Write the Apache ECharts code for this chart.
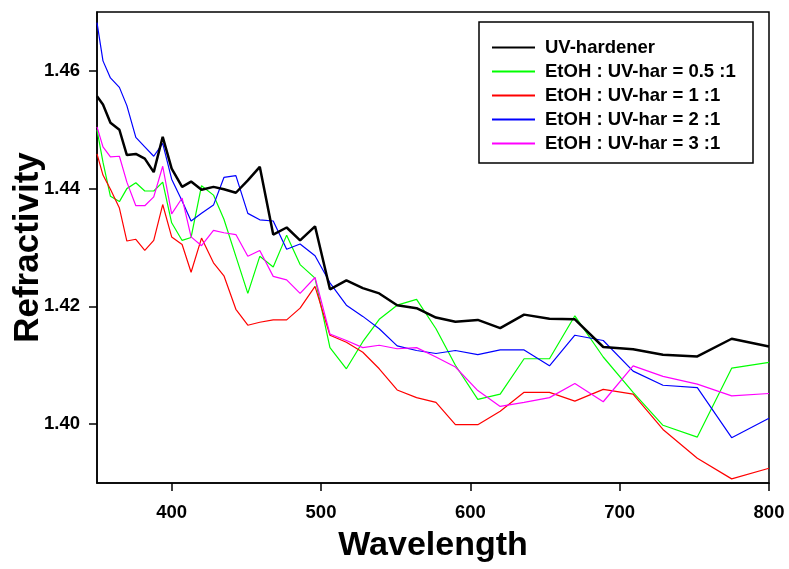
<!DOCTYPE html>
<html>
<head>
<meta charset="utf-8">
<script src="https://cdn.jsdelivr.net/npm/echarts@6/dist/echarts.min.js"></script>
<style>
  html, body { margin: 0; padding: 0; background: #fff; }
  #chart { width: 789px; height: 569px; }
</style>
</head>
<body>
<div id="chart"></div>
<script>
// wavelength of each measured point (nm)
const wavelength = [350, 354, 359, 365, 370, 376, 382, 388, 394, 400, 407, 413, 420, 428, 435, 443, 451, 459, 468, 477,
  486, 496, 506, 517, 528, 539, 551, 564, 577, 590, 605, 620, 636, 653, 670, 689, 709, 729, 752, 775, 800];

const uvHardener = [1.4557, 1.4543, 1.4512, 1.4500, 1.4457, 1.4459, 1.4451, 1.4428, 1.4488, 1.4434, 1.4403, 1.4412, 1.4398,
  1.4403, 1.4399, 1.4393, 1.4414, 1.4437, 1.4322, 1.4334, 1.4312, 1.4336, 1.4229, 1.4244, 1.4231, 1.4222, 1.4202, 1.4197,
  1.4181, 1.4174, 1.4177, 1.4163, 1.4186, 1.4179, 1.4178, 1.4131, 1.4127, 1.4118, 1.4115, 1.4145, 1.4132];

const ratio05 = [1.4500, 1.4445, 1.4387, 1.4378, 1.4400, 1.4410, 1.4396, 1.4396, 1.4411, 1.4342, 1.4312, 1.4317, 1.4405,
  1.4389, 1.4348, 1.4285, 1.4222, 1.4285, 1.4267, 1.4321, 1.4271, 1.4248, 1.4130, 1.4094, 1.4140, 1.4178, 1.4202, 1.4212,
  1.4162, 1.4100, 1.4042, 1.4051, 1.4111, 1.4111, 1.4184, 1.4114, 1.4054, 1.3998, 1.3978, 1.4095, 1.4105];

const ratio1 = [1.4459, 1.4423, 1.4399, 1.4367, 1.4311, 1.4314, 1.4295, 1.4312, 1.4373, 1.4318, 1.4305, 1.4258, 1.4316,
  1.4274, 1.4252, 1.4195, 1.4168, 1.4173, 1.4177, 1.4177, 1.4197, 1.4234, 1.4151, 1.4139, 1.4122, 1.4094, 1.4058, 1.4045,
  1.4037, 1.3999, 1.3999, 1.4022, 1.4054, 1.4054, 1.4039, 1.4059, 1.4051, 1.3991, 1.3942, 1.3907, 1.3925];

const ratio2 = [1.4682, 1.4617, 1.4588, 1.4572, 1.4541, 1.4487, 1.4471, 1.4455, 1.4477, 1.4416, 1.4379, 1.4345, 1.4358,
  1.4372, 1.4419, 1.4422, 1.4358, 1.4347, 1.4345, 1.4297, 1.4306, 1.4286, 1.4240, 1.4202, 1.4183, 1.4162, 1.4133, 1.4125,
  1.4120, 1.4125, 1.4118, 1.4126, 1.4126, 1.4099, 1.4151, 1.4142, 1.4090, 1.4066, 1.4062, 1.3977, 1.4010];

const ratio3 = [1.4505, 1.4471, 1.4454, 1.4455, 1.4411, 1.4371, 1.4371, 1.4386, 1.4438, 1.4357, 1.4384, 1.4318, 1.4303,
  1.4329, 1.4325, 1.4322, 1.4285, 1.4295, 1.4251, 1.4245, 1.4222, 1.4249, 1.4153, 1.4142, 1.4130, 1.4134, 1.4128, 1.4130,
  1.4114, 1.4097, 1.4057, 1.4030, 1.4037, 1.4045, 1.4069, 1.4038, 1.4099, 1.4081, 1.4068, 1.4048, 1.4052];

const seriesNames = ['UV-hardener', 'EtOH : UV-har = 0.5 :1', 'EtOH : UV-har = 1 :1', 'EtOH : UV-har = 2 :1', 'EtOH : UV-har = 3 :1'];
const seriesValues = [uvHardener, ratio05, ratio1, ratio2, ratio3];
const seriesColors = ['#000000', '#00ff00', '#ff0000', '#0000ff', '#ff00ff'];

const xTicks = [400, 500, 600, 700, 800];
const yTicks = [1.40, 1.42, 1.44, 1.46];

const font = "'Liberation Sans', Arial, sans-serif";

const chart = echarts.init(document.getElementById('chart'), null, { renderer: 'canvas' });

const series = seriesValues.map((vals, i) => ({
  name: seriesNames[i],
  type: 'line',
  symbol: 'none',
  z: i === 0 ? 3 : 2,
  lineStyle: { color: seriesColors[i], width: i === 0 ? 2.5 : 1.2 },
  itemStyle: { color: seriesColors[i] },
  data: wavelength.map((w, j) => [w, vals[j]])
}));

const option = {
  animation: false,
  backgroundColor: '#fff',
  grid: {
    left: 97, right: 20, top: 12, bottom: 86,
    outerBoundsMode: 'none',
    show: true, borderColor: '#000', borderWidth: 1.5, backgroundColor: 'transparent'
  },
  graphic: [{
    type: 'rect',
    shape: { x: 479, y: 22, width: 274, height: 141 },
    style: { fill: '#fff', stroke: '#000', lineWidth: 1.5 },
    z: 50
  }],
  legend: {
    orient: 'vertical',
    left: 492, top: 38,
    icon: 'rect',
    itemWidth: 43, itemHeight: 2, itemGap: 5,
    padding: 0,
    z: 60,
    data: seriesNames,
    textStyle: { fontFamily: font, fontWeight: 'bold', fontSize: 18.5, lineHeight: 19, color: '#000', padding: [0, 0, 0, 5] }
  },
  xAxis: {
    type: 'value',
    min: 350, max: 800,
    name: 'Wavelength',
    nameLocation: 'middle',
    nameGap: 46,
    nameMoveOverlap: false,
    nameTextStyle: { fontFamily: font, fontWeight: 'bold', fontSize: 34, color: '#000' },
    axisLine: { lineStyle: { color: '#000', width: 1.5 } },
    axisTick: { customValues: xTicks, length: 8, lineStyle: { color: '#000', width: 1.5 } },
    axisLabel: { customValues: xTicks, margin: 20, fontFamily: font, fontWeight: 'bold', fontSize: 18.5, color: '#000' },
    splitLine: { show: false }
  },
  yAxis: {
    type: 'value',
    min: 1.39, max: 1.47,
    name: 'Refractivity',
    nameLocation: 'middle',
    nameGap: 51,
    nameMoveOverlap: false,
    nameTextStyle: { fontFamily: font, fontWeight: 'bold', fontSize: 35, color: '#000' },
    axisLine: { lineStyle: { color: '#000', width: 1.5 } },
    axisTick: { customValues: yTicks, length: 8, lineStyle: { color: '#000', width: 1.5 } },
    axisLabel: {
      customValues: yTicks, margin: 17, fontFamily: font, fontWeight: 'bold', fontSize: 18.5, color: '#000',
      formatter: v => v.toFixed(2)
    },
    splitLine: { show: false }
  },
  series: series
};

chart.setOption(option);
</script>
</body>
</html>
